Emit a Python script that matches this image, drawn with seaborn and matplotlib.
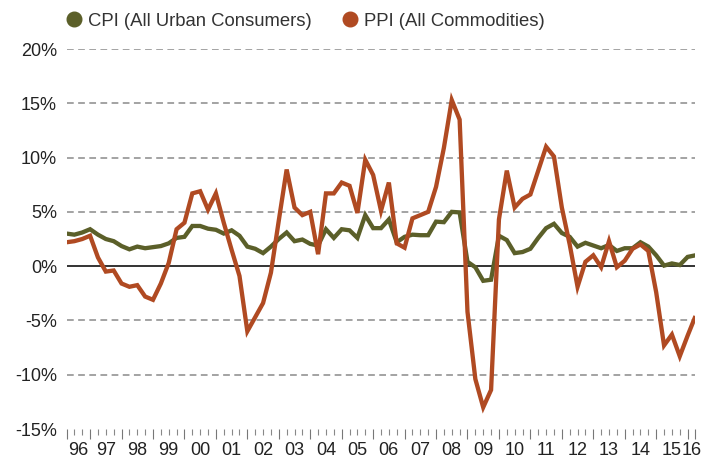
import numpy as np
import pandas as pd
import matplotlib
matplotlib.use("Agg")
import matplotlib.pyplot as plt
from matplotlib.lines import Line2D
from matplotlib.ticker import FixedLocator
import seaborn as sns

# ---------------- data (quarterly, 1996Q1 .. 2016Q1, % y/y) ----------------
start_year = 1996
n_quarters = 81
cpi = [3.0, 2.9, 3.1, 3.4, 2.9, 2.5, 2.3, 1.85, 1.55, 1.8,
       1.65, 1.75, 1.85, 2.1, 2.6, 2.7, 3.7, 3.7, 3.45, 3.35,
       3.0, 3.3, 2.8, 1.8, 1.6, 1.2, 1.8, 2.5, 3.1, 2.3,
       2.45, 2.05, 1.9, 3.4, 2.6, 3.4, 3.3, 2.6, 4.7, 3.5,
       3.5, 4.3, 2.2, 2.7, 2.9, 2.85, 2.85, 4.1, 4.05, 5.0,
       4.95, 0.4, -0.1, -1.35, -1.25, 2.8, 2.4, 1.2, 1.3, 1.6,
       2.6, 3.5, 3.9, 3.05, 2.7, 1.8, 2.15, 1.9, 1.65, 1.95,
       1.4, 1.65, 1.65, 2.2, 1.8, 1.0, 0.05, 0.25, 0.1, 0.85,
       1.0]
ppi = [2.2, 2.3, 2.5, 2.8, 0.8, -0.5, -0.4, -1.6, -1.9, -1.75,
       -2.8, -3.1, -1.6, 0.3, 3.4, 4.0, 6.7, 6.9, 5.2, 6.7,
       4.0, 1.5, -0.9, -6.0, -4.7, -3.4, -0.6, 4.2, 8.9, 5.4,
       4.7, 5.0, 1.1, 6.7, 6.7, 7.7, 7.4, 4.9, 9.8, 8.4,
       5.1, 7.7, 2.1, 1.7, 4.4, 4.7, 5.0, 7.3, 10.9, 15.3,
       13.5, -4.2, -10.4, -13.0, -11.4, 4.3, 8.8, 5.4, 6.2, 6.6,
       8.8, 11.0, 10.1, 5.4, 2.0, -1.9, 0.4, 1.0, -0.1, 2.3,
       -0.1, 0.5, 1.6, 2.0, 1.4, -2.4, -7.3, -6.3, -8.3, -6.4,
       -4.6]
series_names = ["CPI (All Urban Consumers)", "PPI (All Commodities)"]
series_colors = ["#5b5f29", "#b04a22"]
year_labels = ["96", "97", "98", "99", "00", "01", "02", "03", "04", "05",
               "06", "07", "08", "09", "10", "11", "12", "13", "14", "15", "16"]
y_ticks = [-15, -10, -5, 0, 5, 10, 15, 20]
y_tick_labels = ["-15%", "-10%", "-5%", "0%", "5%", "10%", "15%", "20%"]

# quarter-end positions in decimal years
t = start_year + 0.25 * np.arange(1, n_quarters + 1)
df = pd.DataFrame({
    "t": np.concatenate([t, t]),
    "value": np.concatenate([cpi, ppi]),
    "series": [series_names[0]] * n_quarters + [series_names[1]] * n_quarters,
})

# ---------------- style ----------------
sns.set_theme(style="white")
plt.rcParams["font.family"] = ["Liberation Sans", "DejaVu Sans"]

fig = plt.figure(figsize=(7.19, 4.61), dpi=100)
ax = fig.add_axes([0.0925, 0.0694, 0.8748, 0.8243])

sns.lineplot(data=df, x="t", y="value", hue="series", hue_order=series_names,
             palette=series_colors, linewidth=3.1, legend=False, ax=ax,
             zorder=3)
for ln in ax.get_lines():
    ln.set_solid_joinstyle("miter")
    ln.set_solid_capstyle("butt")

x0, x1 = t[0], t[-1]
ax.set_xlim(x0, x1)
ax.set_ylim(-15, 20)
ax.set_xlabel("")
ax.set_ylabel("")

for s in ax.spines.values():
    s.set_visible(False)

# y axis
ax.set_yticks(y_ticks)
ax.set_yticklabels(y_tick_labels)
ax.tick_params(axis="y", length=0, pad=6.8, labelsize=13, labelcolor="#222222")
for yv in y_ticks:
    if yv in (0, -15):
        continue
    ax.axhline(yv, color="#8a8a8a", linewidth=1.1, linestyle=(0, (4.4, 2.9)),
               zorder=1)
ax.axhline(0, color="#111111", linewidth=1.2, zorder=2)

# x axis ticks: year boundaries (major), quarters (minor)
years = np.arange(start_year, start_year + len(year_labels))
major_pos = [x0] + [y for y in years if x0 < y < x1] + [x1]
minor_pos = list(t)
ax.xaxis.set_major_locator(FixedLocator(major_pos))
ax.xaxis.set_minor_locator(FixedLocator(minor_pos))
ax.tick_params(axis="x", which="major", direction="out", length=7.2, width=0.8,
               color="#777777", labelbottom=False, bottom=True)
ax.tick_params(axis="x", which="minor", direction="out", length=4.2, width=0.8,
               color="#888888", bottom=True)

# year labels centred in each (visible) year
label_pos = []
for i, y in enumerate(years):
    lo = max(y, x0)
    hi = min(y + 1, x1)
    label_pos.append((lo + hi) / 2)
sec = ax.secondary_xaxis("bottom")
sec.set_xticks(label_pos)
sec.set_xticklabels(year_labels)
sec.tick_params(axis="x", length=0, pad=9.5, labelsize=13, labelcolor="#222222")
for s in sec.spines.values():
    s.set_visible(False)

# legend
handles = [Line2D([], [], marker="o", linestyle="", markersize=10.5,
                  markerfacecolor=c, markeredgecolor=c) for c in series_colors]
fig.legend(handles, series_names, loc="center left",
           bbox_to_anchor=(0.0901, 0.9544), ncol=2, frameon=False,
           handlelength=1.0, handletextpad=0.24, columnspacing=1.61,
           borderpad=0, borderaxespad=0, fontsize=13.3, labelcolor="#333333")

fig.savefig("out.png", dpi=100)
